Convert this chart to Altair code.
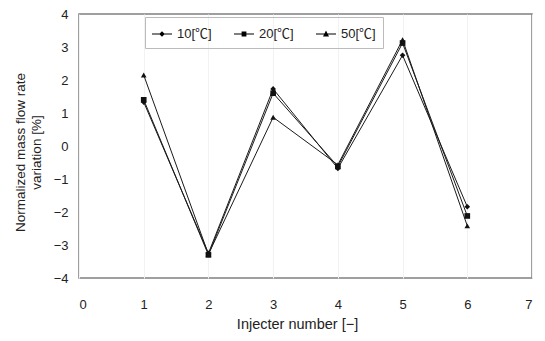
import altair as alt
import pandas as pd

injectors = [1, 2, 3, 4, 5, 6]
series_names = ["10[℃]", "20[℃]", "50[℃]"]
t10 = [1.33, -3.25, 1.73, -0.68, 2.75, -1.84]
t20 = [1.40, -3.30, 1.60, -0.62, 3.12, -2.12]
t50 = [2.15, -3.28, 0.87, -0.57, 3.22, -2.42]
x_ticks = [0, 1, 2, 3, 4, 5, 6, 7]
y_ticks = [-4, -3, -2, -1, 0, 1, 2, 3, 4]

rows = []
for name, vals in zip(series_names, [t10, t20, t50]):
    for x, v in zip(injectors, vals):
        rows.append({"inj": x, "val": v, "series": name})
df = pd.DataFrame(rows)

FONT = "Liberation Sans, Arial, Noto Sans CJK KR"

xaxis = alt.Axis(values=x_ticks, format="d", title="Injecter number [−]", grid=True,
                 gridColor="#f2f2f2", ticks=False, domain=False,
                 labelOverlap=False, titleX=218,
                 labelPadding=20, titlePadding=6, labelFontSize=13,
                 titleFontSize=14.5, labelFont=FONT, titleFont=FONT,
                 labelColor="#222", titleColor="#222", titleFontWeight="normal")
yaxis = alt.Axis(values=y_ticks, format="d", tickCount=9,
                 title=["Normalized mass flow rate", "variation [%]"],
                 grid=False, ticks=False, domain=False, labelPadding=11,
                 labelOverlap=False, titleY=138,
                 titlePadding=10, labelFontSize=13, titleFontSize=13.5,
                 labelFont=FONT, titleFont=FONT, labelColor="#222",
                 titleColor="#222", titleFontWeight="normal", titleLineHeight=16)

def xenc():
    return alt.X("inj:Q", scale=alt.Scale(domain=[0, 7], nice=False), axis=xaxis)

def yenc():
    return alt.Y("val:Q", scale=alt.Scale(domain=[-4, 4], nice=False), axis=yaxis)

base = alt.Chart(df)

lines = base.mark_line(color="#1a1a1a", strokeWidth=1).encode(x=xenc(), y=yenc(), detail="series:N")

points = base.mark_point(filled=True, color="#111", opacity=1, size=32).encode(
    x=xenc(), y=yenc(),
    shape=alt.Shape("series:N", scale=alt.Scale(domain=series_names,
                                                 range=["diamond", "square", "triangle-up"]),
                    legend=None))

bar = "M-1,-0.04H1V0.04H-1Z"
legend_paths = [
    bar + "M0,-0.28L0.28,0L0,0.28L-0.28,0Z",
    bar + "M-0.24,-0.24H0.24V0.24H-0.24Z",
    bar + "M0,-0.34L0.3,0.24L-0.3,0.24Z",
]
legend_layer = base.mark_point(filled=True, color="black", opacity=0, size=400).encode(
    x=xenc(), y=yenc(),
    shape=alt.Shape("series:N", scale=alt.Scale(domain=series_names, range=legend_paths),
                    legend=alt.Legend(title=None, orient="none", legendX=66, legendY=3,
                                      direction="horizontal", strokeColor="#bbb",
                                      padding=7, symbolSize=400, symbolStrokeWidth=0,
                                      symbolFillColor="black",
                                      labelFontSize=13, labelFont=FONT, labelColor="#222",
                                      labelOffset=5, columnPadding=22)))

chart = alt.layer(lines, points, legend_layer).resolve_scale(shape="independent").properties(
    width=453, height=264,
    background="white",
    autosize=alt.AutoSizeParams(type="none"),
    padding={"left": 71, "top": 6, "right": 5, "bottom": 60},
).configure_view(stroke="#808080", strokeWidth=1.5)

chart.save("out.html", embed_options={"renderer": "svg", "actions": False})
